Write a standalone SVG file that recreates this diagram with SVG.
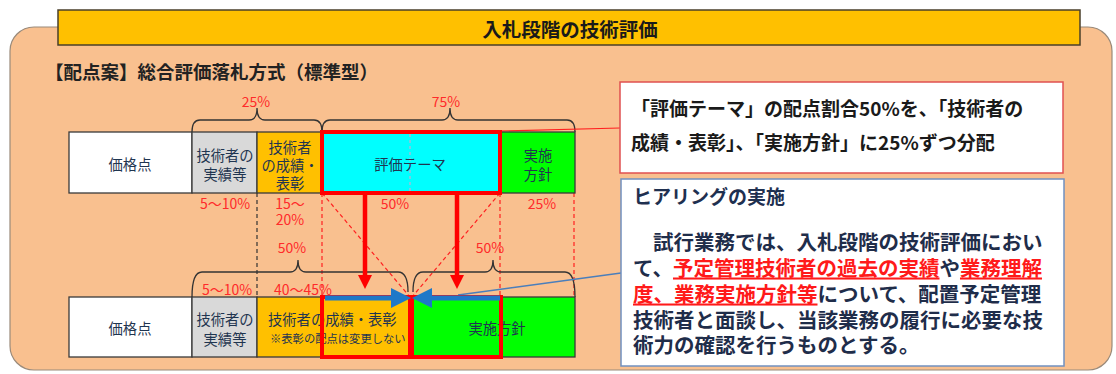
<svg xmlns="http://www.w3.org/2000/svg" width="1116" height="374" viewBox="0 0 1116 374">
<style>
text{font-family:"Noto Sans CJK JP","Noto Sans CJK SC",sans-serif;}
.cell{stroke:#3a3a3a;stroke-width:1.3}
.lbl{font-size:14.3px;fill:#1f3550;text-anchor:middle;dominant-baseline:central}
.pct{font-size:14px;fill:#ff2a2a;text-anchor:middle;dominant-baseline:central}
.brace{fill:none;stroke:#333;stroke-width:1.3}
.rdash{stroke:#ff2020;stroke-width:1.2;stroke-dasharray:4 3;fill:none}
.kdash{stroke:#333;stroke-width:1.2;stroke-dasharray:4 3;fill:none}
.redbox{fill:none;stroke:#ff0000;stroke-width:4}
.rarrow{stroke:#ff0000;stroke-width:4.5}
.barrow{stroke:#1e78c8;stroke-width:5}
.body{font-size:20.5px;font-weight:bold;fill:#1f2d4a}
.em{fill:#ff1a1a;text-decoration:underline}
</style>
<rect width="1116" height="374" fill="#ffffff"/>
<g id="panel">
  <rect x="10" y="27" width="1102" height="343" rx="24" fill="#f9c08f" stroke="#9a8a7a" stroke-width="1.2"/>
</g>
<g id="title">
  <rect x="58" y="10" width="1022" height="35" fill="#ffc000" stroke="#4a3f2a" stroke-width="1.5"/>
  <text x="570" y="28" font-size="19.5" font-weight="bold" fill="#1a1a1a" text-anchor="middle" dominant-baseline="central">入札段階の技術評価</text>
</g>
<g id="subtitle">
  <text x="45" y="71" font-size="18.5" font-weight="bold" fill="#222" dominant-baseline="central">【配点案】総合評価落札方式（標準型）</text>
</g>

<g id="connectors">
  <line class="kdash" x1="257" y1="193" x2="257" y2="297"/>
  <line class="rdash" x1="322" y1="193" x2="322" y2="297"/>
  <line class="rdash" x1="500" y1="193" x2="500" y2="297"/>
  <line class="rdash" x1="574" y1="193" x2="574" y2="297"/>
  <line class="rdash" x1="322" y1="193" x2="410" y2="297"/>
  <line class="rdash" x1="500" y1="193" x2="412" y2="297"/>
  <path class="brace" d="M192,132 Q192,120 200,120 H249 Q257,120 257,108 Q257,120 265,120 H314 Q322,120 322,132"/>
  <path class="brace" d="M322,132 Q322,120 330,120 H442 Q450,120 450,108 Q450,120 458,120 H567 Q575,120 575,132"/>
  <path class="brace" d="M192,297 Q192,272 202,272 H290 Q298,272 298,260 Q298,272 306,272 H398 Q408,272 408,292"/>
  <path class="brace" d="M413,292 Q413,272 423,272 H485 Q493,272 493,260 Q493,272 501,272 H565 Q575,272 575,297"/>
  <line x1="500" y1="131" x2="620" y2="128" stroke="#ff2020" stroke-width="1.2"/>
  <line x1="458" y1="295" x2="621" y2="273" stroke="#4a7ebb" stroke-width="1.3"/>
</g>

<g id="top-row">
  <rect class="cell" x="69" y="132" width="123" height="61" fill="#ffffff"/>
  <rect class="cell" x="192" y="132" width="65" height="61" fill="#d9d9d9"/>
  <rect class="cell" x="257" y="132" width="65" height="61" fill="#ffc000"/>
  <rect class="cell" x="322" y="132" width="178" height="61" fill="#00ffff"/>
  <rect class="cell" x="500" y="132" width="75" height="61" fill="#00ff00"/>
  <line x1="410" y1="134" x2="410" y2="191" stroke="#e8a0c8" stroke-width="1" stroke-dasharray="3 3"/>
  <rect class="redbox" x="322" y="132" width="178" height="61"/>
  <text class="lbl" x="130" y="163">価格点</text>
  <text class="lbl" x="225" y="154">技術者の<tspan x="225" dy="19">実績等</tspan></text>
  <text class="lbl" x="290" y="146">技術者<tspan x="290" dy="18">の成績・</tspan><tspan x="290" dy="18">表彰</tspan></text>
  <text class="lbl" x="410" y="163">評価テーマ</text>
  <text class="lbl" x="538" y="154">実施<tspan x="538" dy="19">方針</tspan></text>
</g>

<g id="percent-labels">
  <text class="pct" x="256" y="101">25%</text>
  <text class="pct" x="446" y="101">75%</text>
  <text class="pct" x="225" y="203">5～10%</text>
  <text class="pct" x="290" y="203">15～<tspan x="290" dy="16">20%</tspan></text>
  <text class="pct" x="395" y="203">50%</text>
  <text class="pct" x="542" y="203">25%</text>
  <text class="pct" x="292" y="247">50%</text>
  <text class="pct" x="490" y="247">50%</text>
  <text class="pct" x="227" y="289">5～10%</text>
  <text class="pct" x="303" y="289">40～45%</text>
</g>

<g id="bottom-row">
  <rect class="cell" x="69" y="297" width="123" height="60" fill="#ffffff"/>
  <rect class="cell" x="192" y="297" width="65" height="60" fill="#d9d9d9"/>
  <rect class="cell" x="257" y="297" width="154" height="60" fill="#ffc000"/>
  <rect class="cell" x="411" y="297" width="164" height="60" fill="#00ff00"/>
  <text class="lbl" x="130" y="327">価格点</text>
  <text class="lbl" x="225" y="318">技術者の<tspan x="225" dy="20">実績等</tspan></text>
  <text class="lbl" x="268" y="318" style="text-anchor:start">技術者の成績・表彰<tspan x="270" dy="20" style="font-size:11.3px">※表彰の配点は変更しない</tspan></text>
  <text class="lbl" x="497" y="327">実施方針</text>
  <rect class="redbox" x="322" y="297" width="88" height="60"/>
  <rect class="redbox" x="412" y="297" width="89" height="60"/>
</g>

<g id="arrows">
  <line class="rarrow" x1="365" y1="193" x2="365" y2="276"/>
  <polygon points="358,275 372,275 365,289" fill="#ff0000"/>
  <line class="rarrow" x1="457" y1="193" x2="457" y2="276"/>
  <polygon points="450,275 464,275 457,289" fill="#ff0000"/>
  <line class="barrow" x1="325" y1="298" x2="394" y2="298"/>
  <polygon points="391,288 411,298 391,308" fill="#1e78c8"/>
  <line class="barrow" x1="500" y1="298" x2="430" y2="298"/>
  <polygon points="432,288 412,298 432,308" fill="#1e78c8"/>
</g>

<g id="callout-allocation">
  <rect x="620" y="82" width="443" height="91" fill="#ffffff" stroke="#e05050" stroke-width="1.5"/>
  <text x="631" y="116" font-size="19" font-weight="bold" fill="#1a1a1a">「評価テーマ」の配点割合50%を、「技術者の<tspan x="631" dy="34">成績・表彰」、「実施方針」に25%ずつ分配</tspan></text>
</g>

<g id="callout-hearing">
  <rect x="621" y="179" width="443" height="187" fill="#ffffff" stroke="#7090c0" stroke-width="1.5"/>
  <text x="633" y="204" font-size="19" font-weight="bold" fill="#1f3050">ヒアリングの実施</text>
  <text class="body" x="653" y="249.5">試行業務では、入札段階の技術評価におい<tspan x="633" dy="26">て、</tspan><tspan class="em">予定管理技術者の過去の実績</tspan><tspan>や</tspan><tspan class="em">業務理解</tspan><tspan x="633" dy="26" class="em">度、業務実施方針等</tspan><tspan>について、配置予定管理</tspan><tspan x="633" dy="26">技術者と面談し、当該業務の履行に必要な技</tspan><tspan x="633" dy="25">術力の確認を行うものとする。</tspan></text>
</g>
</svg>
